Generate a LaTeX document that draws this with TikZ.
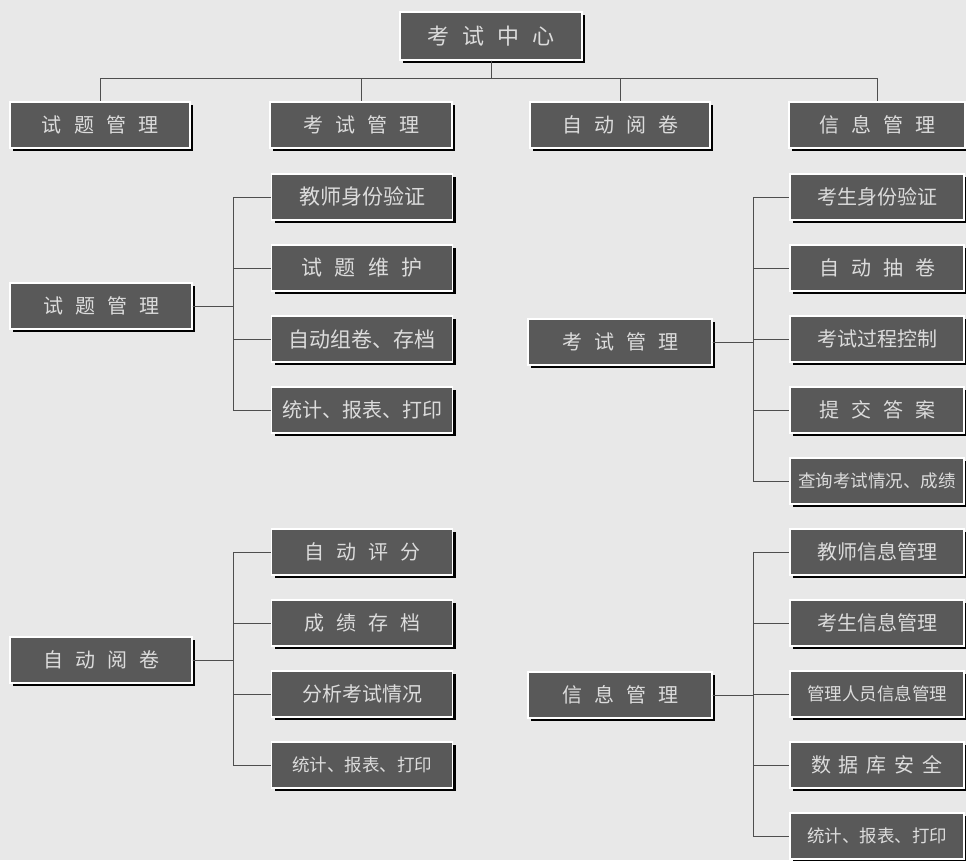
\documentclass[tikz,border=0pt]{standalone}
\usepackage{fontspec}
\setmainfont{Noto Sans CJK SC}
\usepackage{tikz}
\usetikzlibrary{shadows,positioning}
\definecolor{paper}{HTML}{E8E8E8}
\definecolor{boxgray}{HTML}{595959}
\definecolor{linegray}{HTML}{4E4E4E}
\definecolor{boxtext}{HTML}{DCDCDC}
\newcommand\kg{\hspace{0.6em}}
\newcommand\kgs{\hspace{0.4em}}
\newcommand\smalltxt{\fontsize{17.5}{20}\selectfont}

\begin{document}
\begin{tikzpicture}[x=1pt,y=-1pt,
  box/.style={draw=white,line width=1.2pt,fill=boxgray,text=boxtext,
    minimum width=180pt,minimum height=46pt,inner sep=0pt,
    font=\fontsize{20}{22}\selectfont,
    drop shadow={shadow xshift=3pt,shadow yshift=-3pt,fill=black,opacity=1}},
  link/.style={draw=linegray,line width=1pt}]
\useasboundingbox (0,0) rectangle (966,860);
\fill[paper] (0,0) rectangle (966,860);

% top row
\node[box,minimum width=182pt,minimum height=48pt,font=\fontsize{22}{24}\selectfont] (root) at (491,36) {考\kg 试\kg 中\kg 心};
\node[box] (shiti) at (100,125) {试\kg 题\kg 管\kg 理};
\node[box,minimum width=182pt] (kaoshi) at (361,125) {考\kg 试\kg 管\kg 理};
\node[box] (yuejuan) at (620,125) {自\kg 动\kg 阅\kg 卷};
\node[box,minimum width=176pt] (xinxi) at (877,125) {信\kg 息\kg 管\kg 理};
\foreach \n in {shiti,kaoshi,yuejuan,xinxi}
  \draw[link] (root.south) -- ++(0,18) -| (\n.north);

% 试题管理
\node[box,minimum width=182pt] (shitiB) at (101,306) {试\kg 题\kg 管\kg 理};
\foreach \t [count=\i] in {教师身份验证,试\kg 题\kg 维\kg 护,自动组卷、存档,{\fontsize{20}{22}\selectfont 统计、报表、打印}}{
  \node[box,minimum width=181pt,font=\fontsize{21}{23}\selectfont] (shiti-\i) at (362,{126+71*\i}) {\t};
  \draw[link] (shitiB.east) -- ++(41,0) |- (shiti-\i.west);
}

% 考试管理
\node[box,minimum width=184pt] (kaoshiB) at (620,342) {考\kg 试\kg 管\kg 理};
\foreach \t [count=\i] in {考生身份验证,自\kg 动\kg 抽\kg 卷,考试过程控制,提\kg 交\kg 答\kg 案,{\smalltxt 查询考试情况、成绩}}{
  \node[box,minimum width=174pt] (kaoshi-\i) at (877,{126+71*\i}) {\t};
  \draw[link] (kaoshiB.east) -- ++(41,0) |- (kaoshi-\i.west);
}

% 自动阅卷
\node[box,minimum width=182pt] (yuejuanB) at (101,660) {自\kg 动\kg 阅\kg 卷};
\foreach \t [count=\i] in {自\kg 动\kg 评\kg 分,成\kg 绩\kg 存\kg 档,分析考试情况,{\smalltxt 统计、报表、打印}}{
  \node[box,minimum width=181pt] (yuejuan-\i) at (362,{481+71*\i}) {\t};
  \draw[link] (yuejuanB.east) -- ++(41,0) |- (yuejuan-\i.west);
}

% 信息管理
\node[box,minimum width=184pt] (xinxiB) at (620,695) {信\kg 息\kg 管\kg 理};
\foreach \t [count=\i] in {教师信息管理,考生信息管理,{\smalltxt 管理人员信息管理},数\kgs 据\kgs 库\kgs 安\kgs 全,{\smalltxt 统计、报表、打印}}{
  \node[box,minimum width=174pt] (xinxi-\i) at (877,{481+71*\i}) {\t};
  \draw[link] (xinxiB.east) -- ++(41,0) |- (xinxi-\i.west);
}
\end{tikzpicture}
\end{document}
